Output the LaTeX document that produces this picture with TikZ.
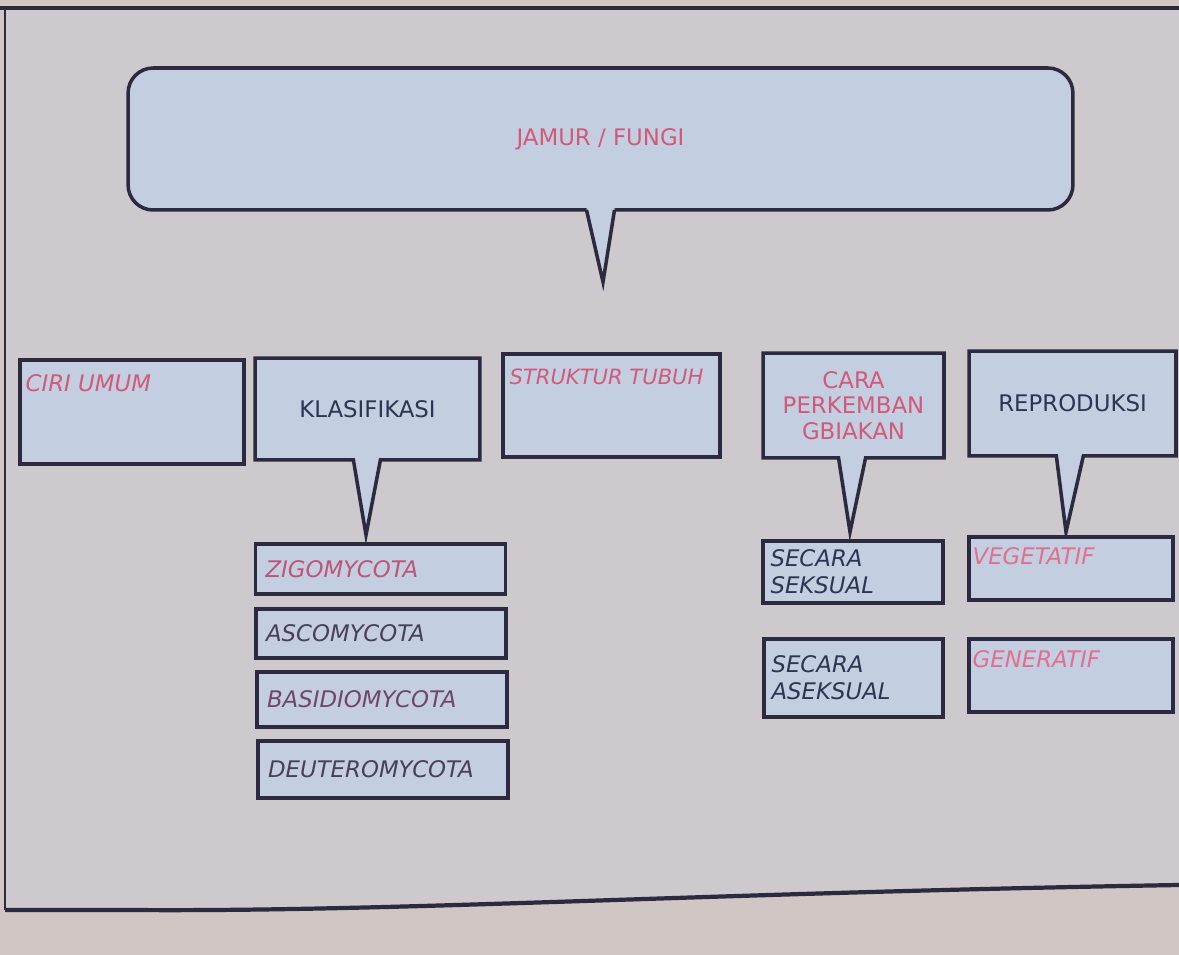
\documentclass[tikz,border=0pt]{standalone}
\usepackage{fontspec}
\setmainfont{DejaVu Sans}
\usepackage{xcolor}
\usetikzlibrary{shapes.callouts}

\definecolor{outside}{HTML}{D0C6C4}
\definecolor{paper}{HTML}{CDC9CC}
\definecolor{boxfill}{HTML}{C4CEE1}
\definecolor{edge}{HTML}{2B2A3E}
\definecolor{pinktext}{HTML}{D05A78}
\definecolor{rosetext}{HTML}{E0708E}
\definecolor{navytext}{HTML}{2C3552}
\definecolor{plumtext}{HTML}{6E4868}
\definecolor{inktext}{HTML}{4A4056}

\begin{document}
\begin{tikzpicture}[x=0.02cm, y=-0.02cm, font=\fontsize{13}{15.5}\selectfont,
    box/.style={draw=edge, line width=2pt, fill=boxfill, inner sep=0pt},
    bubble/.style={box, rectangle callout, callout pointer width=0.54cm, align=center,
      font=\fontsize{13}{14.5}\selectfont},
    phylum/.style={box, minimum width=5cm, inner xsep=0.18cm, text width=4.6cm, align=left,
      font=\fontsize{13}{15.5}\selectfont\itshape},
    lbl/.style={anchor=north west, inner xsep=0.14cm, inner ysep=0.32cm,
      font=\fontsize{13}{15.5}\selectfont\itshape}]

  \useasboundingbox (0,0) rectangle (1179,955);

  % poster sheet
  \fill[outside] (0,0) rectangle (1179,955);
  \fill[paper] (5,8) -- (1179,8) -- (1179,885) .. controls (700,893) and (400,912) .. (130,910) -- (5,910) -- cycle;
  \draw[edge, line width=2.8pt] (0,8) -- (1179,8);
  \draw[edge, line width=1.2pt] (5,8) -- (5,910);
  \draw[edge, line width=2.4pt] (5,910) -- (130,910) .. controls (400,912) and (700,893) .. (1179,885);

  % top bubble
  \node[box, rounded corners=0.5cm, minimum width=18.9cm, minimum height=2.84cm, text=pinktext] (fungi) at (600.5,139) {JAMUR / FUNGI};
  \coordinate (fungitip) at (603,282);
  \fill[boxfill] ([xshift=-0.28cm, yshift=2.6pt]fungi.south) -- ([xshift=-0.28cm, yshift=1pt]fungi.south) -- (fungitip)
    -- ([xshift=0.28cm, yshift=1pt]fungi.south) -- ([xshift=0.28cm, yshift=2.6pt]fungi.south) -- cycle;
  \draw[edge, line width=2pt] ([xshift=-0.28cm, yshift=1pt]fungi.south) -- (fungitip) -- ([xshift=0.28cm, yshift=1pt]fungi.south);

  % second row
  \node[box, minimum width=4.48cm, minimum height=2.08cm,
    label={[lbl, text=pinktext]north west:CIRI UMUM}] (ciri) at (132,412) {};
  \node[bubble, minimum width=4.5cm, minimum height=2.04cm, callout absolute pointer={(366,535)},
    text=navytext] (klas) at (367.5,409) {KLASIFIKASI};
  \node[box, minimum width=4.34cm, minimum height=2.06cm,
    label={[lbl, inner xsep=0.16cm, text=pinktext, font=\fontsize{12}{14}\selectfont\itshape]north west:STRUKTUR TUBUH}] (struktur) at (611.5,405.5) {};
  \node[bubble, minimum width=3.62cm, minimum height=2.1cm, callout absolute pointer={(850,532)},
    text=pinktext] (cara) at (853.5,405.5) {CARA\\PERKEMBAN\\GBIAKAN};
  \node[bubble, minimum width=4.14cm, minimum height=2.1cm, callout absolute pointer={(1066,532)},
    text=navytext] (repro) at (1072.5,403.5) {REPRODUKSI};

  % klasifikasi
  \node[phylum, minimum height=1.0cm, text=pinktext!80!plumtext] (zigo) at (380.5,569) {ZIGOMYCOTA};
  \node[phylum, minimum height=0.98cm, text=inktext] (asco) at (381,633.5) {ASCOMYCOTA};
  \node[phylum, minimum height=1.1cm, text=plumtext] (basidio) at (382,699.5) {BASIDIOMYCOTA};
  \node[phylum, minimum height=1.14cm, text=inktext] (deutero) at (383,769.5) {DEUTEROMYCOTA};

  % perkembangbiakan
  \node[phylum, minimum width=3.6cm, text width=3.3cm, inner xsep=0.15cm, minimum height=1.24cm,
    text=navytext] (seksual) at (853,572) {SECARA\\SEKSUAL};
  \node[phylum, minimum width=3.58cm, text width=3.28cm, inner xsep=0.15cm, minimum height=1.56cm,
    text=navytext] (aseksual) at (853.5,678) {SECARA\\ASEKSUAL};

  % reproduksi
  \node[box, minimum width=4.08cm, minimum height=1.26cm,
    label={[lbl, inner xsep=0.1cm, inner ysep=0.24cm, text=rosetext]north west:VEGETATIF}] (vege) at (1071,568.5) {};
  \node[box, minimum width=4.08cm, minimum height=1.46cm,
    label={[lbl, inner xsep=0.1cm, inner ysep=0.26cm, text=rosetext]north west:GENERATIF}] (gene) at (1071,675.5) {};
\end{tikzpicture}
\end{document}
